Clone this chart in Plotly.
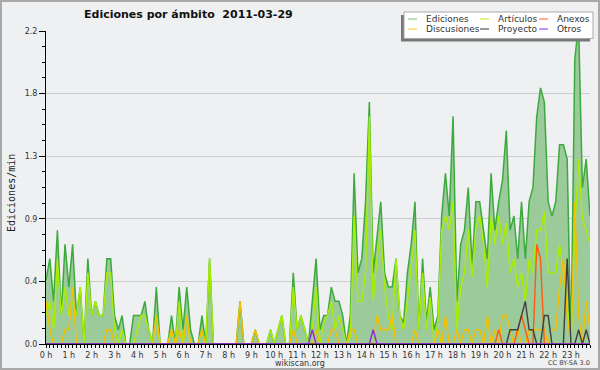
import plotly.graph_objects as go

# ---- data: edits per minute, 10-minute buckets, 2011-03-29 ----
minutos = [10 * i for i in range(144)]
horas = [f"{h} h" for h in range(24)]

ediciones = [
    0.45, 0.6, 0.3, 0.8, 0.2, 0.7,
    0.4, 0.7, 0.2, 0.4, 0.0, 0.6,
    0.2, 0.3, 0.2, 0.2, 0.6, 0.6,
    0.2, 0.1, 0.2, 0.0, 0.0, 0.2,
    0.2, 0.2, 0.3, 0.1, 0.0, 0.4,
    0.0, 0.0, 0.0, 0.2, 0.0, 0.4,
    0.1, 0.4, 0.1, 0.0, 0.0, 0.2,
    0.0, 0.6, 0.0, 0.0, 0.0, 0.0,
    0.0, 0.0, 0.0, 0.3, 0.0, 0.0,
    0.0, 0.1, 0.0, 0.0, 0.0, 0.1,
    0.0, 0.1, 0.2, 0.0, 0.0, 0.5,
    0.1, 0.2, 0.1, 0.0, 0.3, 0.6,
    0.1, 0.2, 0.2, 0.4, 0.3, 0.3,
    0.2, 0.0, 0.2, 1.2, 0.5, 0.6,
    1.0, 1.7, 0.5, 0.75, 1.0, 0.5,
    0.4, 0.4, 0.6, 0.2, 0.15, 0.5,
    0.7, 1.0, 0.1, 0.6, 0.15, 0.4,
    0.1, 0.2, 0.9, 1.2, 0.9, 1.6,
    0.3, 0.7, 0.8, 1.1, 0.55, 1.0,
    1.0, 0.8, 0.6, 1.2, 0.8, 1.0,
    1.15, 1.5, 0.8, 0.9, 0.6, 1.0,
    0.6, 1.0, 1.1, 1.6, 1.8, 1.7,
    1.0, 0.9, 1.0, 1.4, 1.4, 1.3,
    0.0, 2.0, 2.25, 1.1, 1.3, 0.9,
]

articulos = [
    0.2, 0.3, 0.1, 0.6, 0.2, 0.4,
    0.2, 0.3, 0.2, 0.4, 0.0, 0.5,
    0.2, 0.3, 0.2, 0.2, 0.5, 0.5,
    0.1, 0.0, 0.1, 0.0, 0.0, 0.0,
    0.1, 0.2, 0.2, 0.1, 0.0, 0.2,
    0.0, 0.0, 0.0, 0.1, 0.0, 0.3,
    0.0, 0.2, 0.0, 0.0, 0.0, 0.1,
    0.0, 0.6, 0.0, 0.0, 0.0, 0.0,
    0.0, 0.0, 0.0, 0.0, 0.0, 0.0,
    0.0, 0.0, 0.0, 0.0, 0.0, 0.1,
    0.0, 0.1, 0.2, 0.0, 0.0, 0.4,
    0.1, 0.2, 0.1, 0.0, 0.1, 0.4,
    0.0, 0.15, 0.2, 0.3, 0.1, 0.2,
    0.1, 0.0, 0.05, 0.9, 0.3, 0.3,
    0.5, 1.6, 0.3, 0.6, 0.8, 0.4,
    0.2, 0.1, 0.6, 0.2, 0.1, 0.3,
    0.55, 0.8, 0.1, 0.5, 0.1, 0.33,
    0.0, 0.15, 0.8, 0.9, 0.8, 1.0,
    0.1, 0.4, 0.5, 0.8, 0.47, 0.82,
    0.9, 0.7, 0.4, 0.9, 0.7, 0.9,
    0.7, 0.85, 0.5, 0.6, 0.4, 0.5,
    0.3, 0.6, 0.5, 0.8, 0.8, 0.93,
    0.5, 0.5, 0.5, 0.7, 0.5, 0.3,
    0.0, 0.8, 1.3, 0.88, 0.8, 0.7,
]

discusiones = [
    0.3, 0.1, 0.0, 0.0, 0.0, 0.1,
    0.1, 0.4, 0.0, 0.0, 0.0, 0.0,
    0.0, 0.0, 0.0, 0.0, 0.1, 0.1,
    0.0, 0.0, 0.0, 0.0, 0.0, 0.0,
    0.0, 0.0, 0.0, 0.0, 0.0, 0.2,
    0.0, 0.0, 0.0, 0.1, 0.0, 0.1,
    0.0, 0.2, 0.0, 0.0, 0.0, 0.1,
    0.0, 0.0, 0.0, 0.0, 0.0, 0.0,
    0.0, 0.0, 0.0, 0.3, 0.0, 0.0,
    0.0, 0.1, 0.0, 0.0, 0.0, 0.0,
    0.0, 0.0, 0.0, 0.0, 0.0, 0.1,
    0.0, 0.0, 0.0, 0.0, 0.0, 0.1,
    0.0, 0.0, 0.0, 0.1, 0.1, 0.0,
    0.0, 0.0, 0.1, 0.1, 0.0, 0.0,
    0.0, 0.0, 0.0, 0.2, 0.1, 0.1,
    0.1, 0.2, 0.0, 0.0, 0.0, 0.0,
    0.0, 0.1, 0.0, 0.0, 0.0, 0.0,
    0.0, 0.1, 0.0, 0.2, 0.0, 0.0,
    0.1, 0.0, 0.1, 0.1, 0.0, 0.1,
    0.1, 0.0, 0.2, 0.0, 0.1, 0.0,
    0.2, 0.2, 0.1, 0.0, 0.1, 0.0,
    0.0, 0.1, 0.1, 0.1, 0.1, 0.1,
    0.0, 0.1, 0.1, 0.4, 0.6, 0.2,
    0.0, 1.0, 0.2, 0.0, 0.3, 0.1,
]

anexos = [0.0] * 119 + [
    0.1,
    0.0, 0.0, 0.0, 0.0, 0.1, 0.2,
    0.1, 0.0, 0.0, 0.7, 0.6, 0.0,
    0.0, 0.0, 0.0, 0.0, 0.0, 0.0,
    0.0, 0.0, 0.0, 0.0, 0.0, 0.0,
]

proyecto = [0.0] * 120 + [
    0.0, 0.0, 0.1, 0.1, 0.1, 0.2,
    0.3, 0.1, 0.1, 0.0, 0.0, 0.2,
    0.2, 0.0, 0.0, 0.0, 0.0, 0.6,
    0.0, 0.0, 0.1, 0.0, 0.1, 0.0,
]

otros = [0.0] * 144
otros[70] = 0.1
otros[86] = 0.1

# ---- styling ----
BG = "#eff0f1"
W, H = 600, 370
L, R, T, B = 46, 10, 31, 26
PW, PH = W - L - R, H - T - B


def px(x):
    return (x - L) / PW


def py(y):
    return (H - B - y) / PH


x_h = [m / 60 for m in minutos]

fig = go.Figure()
fig.add_trace(go.Scatter(
    x=x_h, y=ediciones, mode="lines", name="Ediciones",
    line=dict(color="#3caa3c", width=1.5), fill="tozeroy",
    fillcolor="#9bca9b", showlegend=False, hoverinfo="skip"))
series = [
    ("Artículos", articulos, "#aaee00"),
    ("Discusiones", discusiones, "#f5c000"),
    ("Anexos", anexos, "#ff5a10"),
    ("Proyecto", proyecto, "#404040"),
    ("Otros", otros, "#8a2be2"),
]
for name, vals, col in series:
    fig.add_trace(go.Scatter(
        x=x_h, y=vals, mode="lines", name=name,
        line=dict(color=col, width=1.4), showlegend=False, hoverinfo="skip"))

fnt = "DejaVu Sans"
fig.update_layout(
    width=W, height=H, autosize=False,
    margin=dict(l=L, r=R, t=T, b=B, pad=0),
    paper_bgcolor=BG, plot_bgcolor=BG,
    showlegend=False,
    font=dict(family=fnt, size=8, color="#333"),
)
fig.update_xaxes(
    range=[0, minutos[-1] / 60], tickmode="array",
    tickvals=list(range(24)), ticktext=horas,
    ticks="outside", ticklen=3, tickcolor="black", tickwidth=1,
    showline=True, linecolor="black", linewidth=1,
    showgrid=False, zeroline=False,
    minor=dict(dtick=1 / 6, tick0=0, ticks="outside", ticklen=3,
               tickcolor="black", showgrid=False),
    tickfont=dict(family=fnt, size=8, color="#333"),
)
fig.update_yaxes(
    range=[0, 2.2], tickmode="array",
    tickvals=[0, 0.44, 0.88, 1.32, 1.76, 2.2],
    ticktext=["0.0", "0.4", "0.9", "1.3", "1.8", "2.2"],
    ticks="outside", ticklen=6, tickcolor="black", tickwidth=1,
    showline=True, linecolor="black", linewidth=1,
    showgrid=True, gridcolor="#cccccc", gridwidth=1, zeroline=False,
    minor=dict(dtick=0.11, tick0=0, ticks="outside", ticklen=3,
               tickcolor="black", showgrid=False),
    tickfont=dict(family=fnt, size=8, color="#333"),
)

ann = []
ann.append(dict(text="Ediciones por ámbito\u00a0\u00a02011-03-29",
                x=px(188), y=py(14), xref="paper", yref="paper",
                showarrow=False, xanchor="center", yanchor="middle",
                font=dict(family=fnt, size=11, color="#111", weight="bold")))
ann.append(dict(text="Ediciones/min", x=px(11), y=py(193),
                xref="paper", yref="paper", showarrow=False, textangle=-90,
                xanchor="center", yanchor="middle",
                font=dict(family="DejaVu Sans Mono", size=10, color="#222")))
ann.append(dict(text="wikiscan.org", x=px(300), y=py(363),
                xref="paper", yref="paper", showarrow=False,
                xanchor="center", yanchor="middle", borderpad=0,
                font=dict(family=fnt, size=8, color="#333")))
ann.append(dict(text="CC BY-SA 3.0", x=px(569), y=py(363),
                xref="paper", yref="paper", showarrow=False,
                xanchor="center", yanchor="middle", borderpad=0,
                font=dict(family=fnt, size=6.5, color="#444")))

shapes = []
shapes.append(dict(type="rect", xref="paper", yref="paper",
                   x0=px(1), x1=px(599), y0=py(1), y1=py(369),
                   line=dict(color="#a8a8a8", width=2), fillcolor="rgba(0,0,0,0)",
                   layer="above"))
shapes.append(dict(type="rect", xref="paper", yref="paper",
                   x0=px(401), x1=px(590), y0=py(15), y1=py(41.5),
                   line=dict(width=0), fillcolor="#777777", layer="above"))
shapes.append(dict(type="rect", xref="paper", yref="paper",
                   x0=px(404), x1=px(593), y0=py(12), y1=py(38.5),
                   line=dict(color="#aaaaaa", width=1), fillcolor="white",
                   layer="above"))

leg_items = [
    ("Ediciones", "#88cc88", 408, 424, 19),
    ("Discusiones", "#ffd050", 408, 424, 29),
    ("Artículos", "#c8f040", 480, 496, 19),
    ("Proyecto", "#555555", 480, 496, 29),
    ("Anexos", "#ff7a45", 539, 555, 19),
    ("Otros", "#9a50f0", 539, 555, 29),
]
for name, col, lx, tx, ly in leg_items:
    shapes.append(dict(type="line", xref="paper", yref="paper",
                       x0=px(lx), x1=px(lx + 9), y0=py(ly), y1=py(ly),
                       line=dict(color=col, width=1.2), layer="above"))
    ann.append(dict(text=name, x=px(tx), y=py(ly), xref="paper", yref="paper",
                    showarrow=False, xanchor="left", yanchor="middle",
                    font=dict(family=fnt, size=9, color="#333")))

fig.update_layout(annotations=ann, shapes=shapes)
fig.write_html(
    "out.html",
    config={"displayModeBar": False},
    post_script="document.body.style.margin='0';document.body.style.padding='0';"
                "document.body.style.overflow='hidden';",
)
